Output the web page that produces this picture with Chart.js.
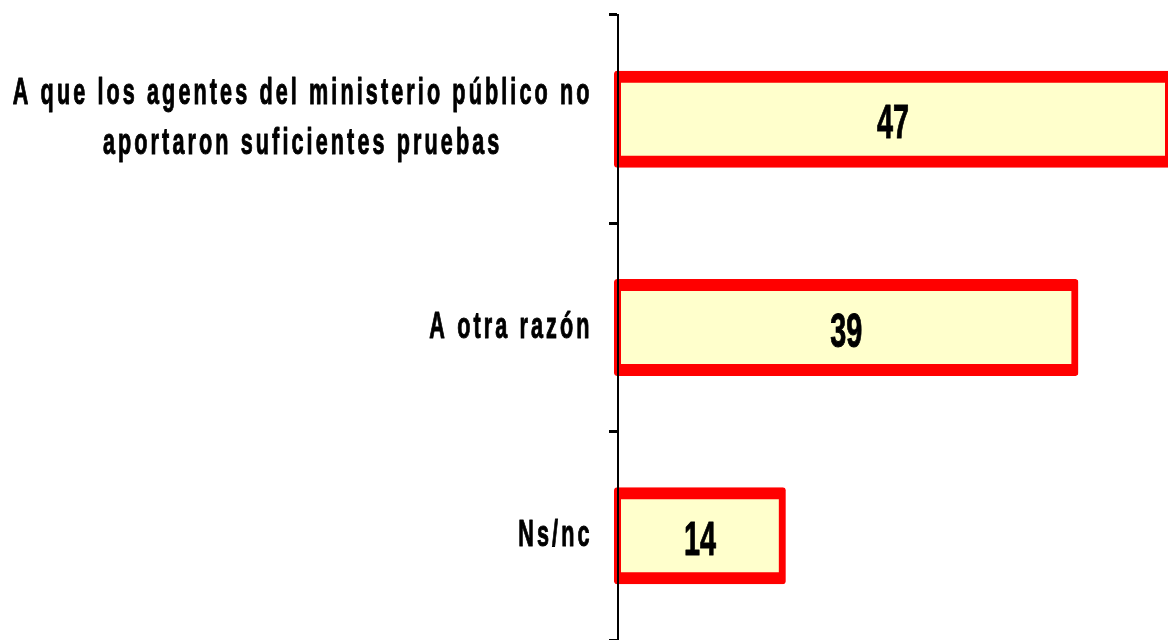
<!DOCTYPE html>
<html>
<head>
<meta charset="utf-8">
<script src="https://cdn.jsdelivr.net/npm/chart.js@4/dist/chart.umd.min.js"></script>
<style>
  html, body { margin: 0; padding: 0; background: #fff; }
  #wrap { width: 1168px; height: 640px; }
</style>
</head>
<body>
<div id="wrap"><canvas id="chart" width="1168" height="640"></canvas></div>
<script>
// category labels (one entry per line), values in %
const categories = [
    ['A que los agentes del ministerio público no', 'aportaron suficientes pruebas'],
    ['A otra razón'],
    ['Ns/nc'],
];
const values = [47, 39, 14];
const xMin = 0;
const xMax = 47;

const FONT = '"Liberation Sans", Arial, sans-serif';
// the original text is tall and narrow, so squeeze it sideways
const SQUEEZE = 0.6;

function setFont(ctx, size, spacing) {
    ctx.font = `bold ${size}px ${FONT}`;
    ctx.letterSpacing = (spacing / SQUEEZE) + 'px';
}

function textWidth(ctx, text, size, spacing) {
    ctx.save();
    setFont(ctx, size, spacing);
    const w = ctx.measureText(text).width * SQUEEZE;
    ctx.restore();
    return w;
}

function drawText(ctx, text, x, y, align, size, spacing) {
    ctx.save();
    ctx.translate(x, y);
    ctx.scale(SQUEEZE, 1);
    setFont(ctx, size, spacing);
    ctx.textAlign = align;
    ctx.textBaseline = 'alphabetic';
    ctx.fillStyle = '#000';
    ctx.strokeStyle = '#000';
    ctx.lineWidth = 1;
    ctx.lineJoin = 'round';
    ctx.fillText(text, 0, 0);
    ctx.strokeText(text, 0, 0);
    ctx.restore();
}

// draws the category names and the value inside each bar
const textPlugin = {
    id: 'barTexts',
    afterDraw(chart) {
        const ctx = chart.ctx;
        const yScale = chart.scales.y;
        const right = chart.chartArea.left - 27;
        const labelSize = 36;
        const labelSpacing = 3.1;
        const lineHeight = 50;

        categories.forEach((lines, i) => {
            const cy = yScale.getPixelForValue(i);
            const widths = lines.map(l => textWidth(ctx, l, labelSize, labelSpacing));
            const maxW = Math.max(...widths);
            const cx = right - maxW / 2;
            lines.forEach((line, k) => {
                const y = cy + 10 + (k - (lines.length - 1) / 2) * lineHeight;
                drawText(ctx, line, cx + labelSpacing / 2, y, 'center', labelSize, labelSpacing);
            });
        });

        const meta = chart.getDatasetMeta(0);
        meta.data.forEach((bar, i) => {
            const cx = (bar.x + bar.base) / 2;
            drawText(ctx, String(values[i]), cx, bar.y + 19, 'center', 48, 0);
        });
    },
};

new Chart(document.getElementById('chart'), {
    type: 'bar',
    data: {
        labels: categories.map(l => l.join(' ')),
        datasets: [
            {
                data: values,
                backgroundColor: '#FFFFCC',
                borderColor: '#FF0000',
                borderWidth: { top: 12, bottom: 12, left: 7, right: 7 },
                borderSkipped: false,
                borderRadius: 3,
                inflateAmount: 4,
                barPercentage: 0.427,
                categoryPercentage: 1,
                clip: false,
            },
        ],
    },
    options: {
        indexAxis: 'y',
        responsive: false,
        animation: false,
        devicePixelRatio: 1,
        layout: {
            padding: { top: 15, left: 0, right: 0, bottom: 0 },
        },
        plugins: {
            legend: { display: false },
            tooltip: { enabled: false },
        },
        scales: {
            x: {
                display: false,
                min: xMin,
                max: xMax,
            },
            y: {
                afterFit(scale) {
                    scale.width = 618;
                },
                ticks: { display: false },
                grid: {
                    offset: true,
                    drawOnChartArea: false,
                    drawTicks: true,
                    tickLength: 9,
                    lineWidth: 3,
                    color: '#000',
                },
                border: {
                    display: true,
                    color: '#000',
                    width: 2,
                    z: 1,
                },
            },
        },
    },
    plugins: [textPlugin],
});
</script>
</body>
</html>
